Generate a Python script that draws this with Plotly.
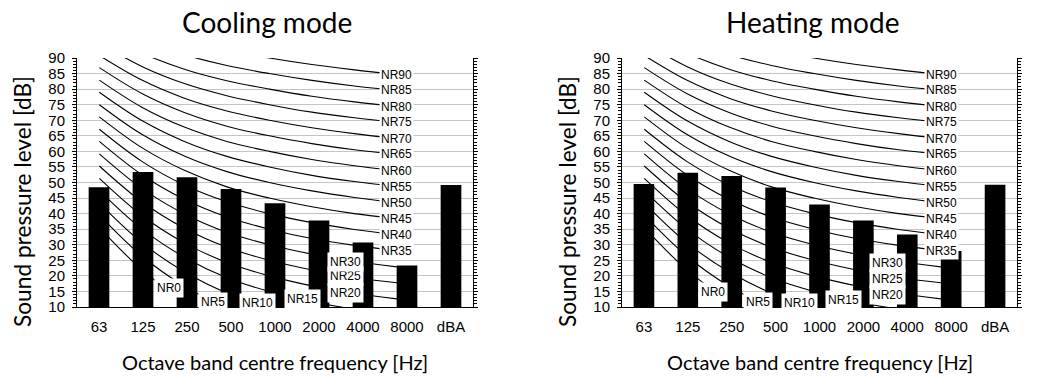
import plotly.graph_objects as go

# ---------------- data ----------------
CATEGORIES = ["63", "125", "250", "500", "1000", "2000", "4000", "8000", "dBA"]
COOLING = [48.5, 53.4, 51.7, 47.9, 43.3, 37.8, 30.7, 23.3, 49.2]
HEATING = [49.5, 53.1, 52.1, 48.4, 42.9, 37.8, 33.3, 28.0, 49.3]

NR_FREQS = ["63", "125", "250", "500", "1000", "2000", "4000", "8000"]
# Tabulated noise-rating curves (dB) at 63 ... 8000 Hz
NR_CURVES = {
    0:  [35.5, 22.0, 12.0, 4.8, 0.0, -3.5, -6.1, -8.0],
    5:  [39.5, 26.4, 16.7, 9.7, 5.0, 1.6, -1.0, -2.9],
    10: [43.4, 30.7, 21.3, 14.5, 10.0, 6.7, 4.2, 2.3],
    15: [47.4, 35.1, 26.0, 19.4, 15.0, 11.7, 9.3, 7.5],
    20: [51.3, 39.4, 30.6, 24.3, 20.0, 16.8, 14.4, 12.6],
    25: [55.3, 43.8, 35.3, 29.2, 25.0, 21.9, 19.5, 17.8],
    30: [59.2, 48.1, 39.9, 34.0, 30.0, 27.0, 24.7, 22.9],
    35: [63.2, 52.5, 44.6, 38.9, 35.0, 32.0, 29.8, 28.1],
    40: [67.1, 56.8, 49.2, 43.8, 40.0, 37.1, 34.9, 33.2],
    45: [71.1, 61.2, 53.9, 48.6, 45.0, 42.2, 40.0, 38.4],
    50: [75.0, 65.5, 58.5, 53.5, 50.0, 47.3, 45.2, 43.5],
    55: [79.0, 69.9, 63.2, 58.4, 55.0, 52.3, 50.3, 48.7],
    60: [82.9, 74.2, 67.8, 63.2, 60.0, 57.4, 55.4, 53.8],
    65: [86.9, 78.6, 72.5, 68.1, 65.0, 62.5, 60.5, 59.0],
    70: [90.8, 82.9, 77.1, 73.0, 70.0, 67.6, 65.7, 64.1],
    75: [94.8, 87.3, 81.8, 77.9, 75.0, 72.6, 70.8, 69.3],
    80: [98.7, 91.6, 86.4, 82.7, 80.0, 77.7, 75.9, 74.4],
    85: [102.7, 96.0, 91.1, 87.6, 85.0, 82.8, 81.0, 79.6],
    90: [106.6, 100.3, 95.7, 92.5, 90.0, 87.9, 86.2, 84.7],
}
# hand-placed labels for the low curves: (NR, position along curve axis, dB)
LOW_LABELS_COOL = [(0, 1.64, 16.1), (5, 2.68, 11.6), (10, 3.71, 11.3), (15, 4.77, 12.6),
                   (20, 5.78, 14.5), (25, 5.78, 20.0), (30, 5.78, 24.5)]
LOW_LABELS_HEAT = [(0, 1.62, 14.8), (5, 2.68, 11.6), (10, 3.67, 11.3), (15, 4.7, 12.4),
                   (20, 5.74, 13.8), (25, 5.74, 19.0), (30, 5.74, 24.2)]

Y_LEFT_TICKS = list(range(10, 95, 5))
Y_RIGHT_TICKS = list(range(10, 100, 10))

PANELS = [
    dict(title="Cooling mode", values=COOLING, low=LOW_LABELS_COOL, px0=77, px1=473, shift=0),
    dict(title="Heating mode", values=HEATING, low=LOW_LABELS_HEAT, px0=622, px1=1017, shift=545),
]

W, H = 1047, 378
TOP_PX, BOT_PX = 58, 307
TICK_FONT = "Liberation Sans, Arial, sans-serif"
TITLE_FONT = "Lato, Calibri, sans-serif"

fig = go.Figure()
layout = dict(
    width=W, height=H, margin=dict(l=0, r=0, t=0, b=0, autoexpand=False),
    paper_bgcolor="white", plot_bgcolor="white", showlegend=False,
    bargap=0.53, annotations=[],
)

ydom = [1 - BOT_PX / H, 1 - TOP_PX / H]
for i, p in enumerate(PANELS):
    n = 2 * i + 1
    xc, xb = f"x{'' if n == 1 else n}", f"x{n + 1}"
    yl, yr = f"y{'' if n == 1 else n}", f"y{n + 1}"
    xdom = [p["px0"] / W, p["px1"] / W]

    # NR curves on the (hidden) primary x axis
    for nr, vals in NR_CURVES.items():
        fig.add_trace(go.Scatter(
            x=list(range(len(NR_FREQS))), y=vals, mode="lines",
            line=dict(color="black", width=1.1, shape="spline", smoothing=1),
            xaxis=xc, yaxis=yl, hoverinfo="skip"))
    # bars on the overlaying category axis (drawn above curves)
    fig.add_trace(go.Bar(
        x=CATEGORIES, y=p["values"], base=0, marker=dict(color="black", line=dict(width=0)),
        xaxis=xb, yaxis=yl, hoverinfo="skip"))

    layout[f"xaxis{'' if n == 1 else n}"] = dict(
        domain=xdom, range=[-0.525, 8.79], visible=False, anchor=yl, automargin=False)
    layout[f"xaxis{n + 1}"] = dict(
        overlaying=xc, anchor=yl, type="category", range=[-0.5, 8.5], automargin=False,
        showline=True, linecolor="black", linewidth=1, ticks="", showgrid=False,
        tickfont=dict(family=TICK_FONT, size=15, color="black"), ticklabelstandoff=6)
    layout[f"yaxis{'' if n == 1 else n}"] = dict(
        domain=ydom, anchor=xc, range=[10, 90], tickvals=Y_LEFT_TICKS, automargin=False,
        showgrid=True, gridcolor="#c4c4c4", gridwidth=1,
        showline=True, linecolor="black", linewidth=1, mirror="ticks",
        ticks="outside", ticklen=4, tickcolor="black", tickwidth=1,
        minor=dict(dtick=1, tick0=10, ticks="outside", ticklen=3, tickcolor="black", showgrid=False),
        tickfont=dict(family=TICK_FONT, size=15, color="black"), ticklabelstandoff=4,
        zeroline=False)
    layout[f"yaxis{n + 1}"] = dict(
        overlaying=yl, anchor=xc, side="right", range=[10, 90], tickvals=Y_RIGHT_TICKS,
        automargin=False,
        showgrid=False, showline=True, linecolor="black", linewidth=1,
        ticks="inside", ticklen=3, tickcolor="black",
        minor=dict(dtick=1, tick0=10, ticks="inside", ticklen=3, tickcolor="black", showgrid=False),
        tickfont=dict(family=TICK_FONT, size=16.5, color="black"), ticklabelstandoff=13,
        zeroline=False)

    # NR labels: high curves at their 8000 Hz end point
    for nr, vals in NR_CURVES.items():
        if nr >= 35:
            layout["annotations"].append(dict(
                x=len(NR_FREQS) - 1, y=vals[-1], xref=xc, yref=yl, text=f"NR{nr}",
                showarrow=False, bgcolor="white", borderpad=1,
                xanchor="center", yanchor="middle",
                font=dict(family=TICK_FONT, size=12, color="black")))
    for nr, xv, yv in p["low"]:
        layout["annotations"].append(dict(
            x=xv, y=yv, xref=xc, yref=yl, text=f"NR{nr}",
            showarrow=False, bgcolor="white", borderpad=2,
            xanchor="center", yanchor="middle",
            font=dict(family=TICK_FONT, size=12, color="black")))

    s = p["shift"]
    layout["annotations"] += [
        dict(x=(267 + s) / W, y=1 - 22 / H, xref="paper", yref="paper", text=p["title"],
             xanchor="center", yanchor="middle",
             showarrow=False, font=dict(family=TITLE_FONT, size=28, color="black")),
        dict(x=(22 + s) / W, y=1 - 202 / H, xref="paper", yref="paper",
             text="Sound pressure level [dB]", textangle=-90, showarrow=False,
             xanchor="center", yanchor="middle",
             font=dict(family=TITLE_FONT, size=22.7, color="black")),
        dict(x=(275 + s) / W, y=1 - 362 / H, xref="paper", yref="paper",
             text="Octave band centre frequency [Hz]", showarrow=False,
             xanchor="center", yanchor="middle",
             font=dict(family=TITLE_FONT, size=20, color="black")),
    ]

fig.update_layout(**layout)
fig.write_html("out.html", config={"displayModeBar": False},
               post_script="document.body.style.margin='0';")
